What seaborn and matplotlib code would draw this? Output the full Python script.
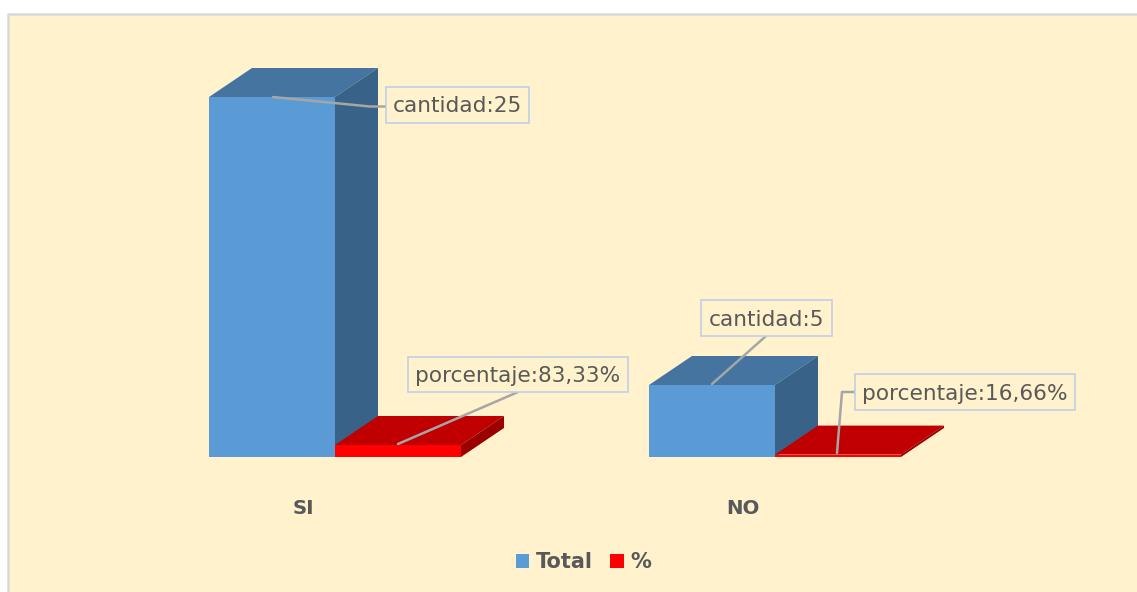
import matplotlib
matplotlib.use("Agg")
import matplotlib.pyplot as plt
from matplotlib.patches import Polygon, Rectangle
from matplotlib.transforms import Affine2D, ScaledTranslation
import pandas as pd
import seaborn as sns

categories = ["SI", "NO"]
series_names = ["Total", "%"]
total_values = [25, 5]
percent_values = [0.8333, 0.1666]
callouts_total = ["cantidad:25", "cantidad:5"]
callouts_percent = ["porcentaje:83,33%", "porcentaje:16,66%"]

W, H = 1137, 592
BASE_PX = 457
BG = "#FFF2CC"
TXT = "#595959"
colors = {"Total": "#5B9BD5", "%": "#FF0000"}
tops = {"Total": "#44749F", "%": "#C00000"}
sides = {"Total": "#386288", "%": "#9B0000"}

df = pd.DataFrame({
    "cat": categories * 2,
    "serie": [series_names[0]] * 2 + [series_names[1]] * 2,
    "val": total_values + percent_values,
})

sns.set_theme(style="white")
plt.rcParams["font.family"] = ["DejaVu Sans"]

fig = plt.figure(figsize=(W / 100, H / 100), dpi=100, facecolor="white")
px = Affine2D().scale(1 / W, -1 / H).translate(0, 1) + fig.transFigure
fig.add_artist(Rectangle((8, 14), W, H, transform=px, facecolor=BG,
                         edgecolor="#D9D9D9", linewidth=1.8, zorder=-10))

ax = fig.add_axes([0, (H - BASE_PX) / H, 1, BASE_PX / H])
ax.patch.set_visible(False)
sns.barplot(data=df, x="cat", y="val", hue="serie", hue_order=series_names,
            palette=colors, width=0.5727, gap=0, saturation=1, ax=ax,
            linewidth=0, legend=True)
handles, labels = ax.get_legend_handles_labels()
ax.get_legend().remove()

ax.set_xlim(-335 / 440, (W - 335) / 440)
ax.set_ylim(0, BASE_PX / 14.4)
sns.despine(ax=ax, left=True, bottom=True, top=True, right=True)
ax.set_xlabel("")
ax.set_ylabel("")
ax.set_yticks([])
ax.tick_params(axis="x", length=0, pad=30)
shift = ScaledTranslation(-32 / 100, 0, fig.dpi_scale_trans)
for t in ax.get_xticklabels():
    t.set_fontsize(14.2)
    t.set_fontweight("bold")
    t.set_color(TXT)
    t.set_transform(t.get_transform() + shift)

# Extruded faces derived from each drawn bar
DX = 43 / 440
DY = 29 / 14.4
bars = [p for p in ax.patches if p.get_height() > 0]
for bar, name in zip(bars, [series_names[0]] * 2 + [series_names[1]] * 2):
    x0, w, h = bar.get_x(), bar.get_width(), bar.get_height()
    z = 1 if name == "Total" else 2
    ax.add_patch(Polygon([(x0, h), (x0 + DX, h + DY), (x0 + w + DX, h + DY), (x0 + w, h)],
                         facecolor=tops[name], edgecolor="none", zorder=z))
    ax.add_patch(Polygon([(x0 + w, 0), (x0 + w + DX, DY), (x0 + w + DX, h + DY), (x0 + w, h)],
                         facecolor=sides[name], edgecolor="none", zorder=z))
    bar.set_zorder(3)

# Callouts: box (x0, y0, x1, y1) and leader path in pixel layout
layouts = [
    (callouts_total[0], (386, 87, 529, 123), [(273, 97), (370, 106.5), (386, 106.5)]),
    (callouts_percent[0], (408, 357, 628, 392), [(398, 444), (518, 392)]),
    (callouts_total[1], (701, 300, 832, 336), [(712, 384), (766, 336)]),
    (callouts_percent[1], (855, 374, 1075, 410), [(837, 453), (842, 392), (855, 392)]),
]
for label, (x0, y0, x1, y1), path in layouts:
    fig.add_artist(plt.Line2D([p[0] for p in path], [p[1] for p in path], transform=px,
                              color="#A6A6A6", linewidth=1.8, zorder=6))
    fig.add_artist(Rectangle((x0, y0), x1 - x0, y1 - y0, transform=px, facecolor=BG,
                             edgecolor="#BFD0E8", linewidth=1.2, zorder=7))
    fig.text((x0 + x1) / 2 / W, 1 - ((y0 + y1) / 2 + 1.5) / H, label, ha="center", va="center",
             fontsize=15.6, color=TXT, zorder=8)

leg = fig.legend(handles, labels, loc="center", bbox_to_anchor=(583.5 / W, 1 - 562.5 / H),
                 ncol=2, frameon=False, handlelength=0.66, handleheight=0.66,
                 handletextpad=0.3, columnspacing=0.85, fontsize=15)
for t in leg.get_texts():
    t.set_fontweight("bold")
    t.set_color(TXT)

fig.savefig("out.png", dpi=100)
